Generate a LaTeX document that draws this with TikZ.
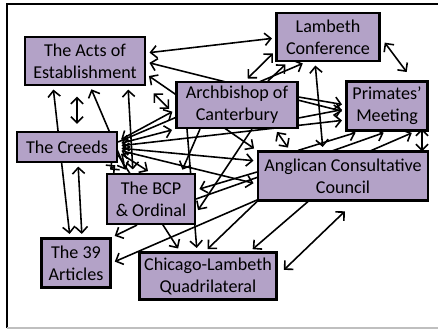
\documentclass[tikz,border=0pt]{standalone}
\usepackage{fontspec}
\setmainfont{Carlito}
\usetikzlibrary{positioning,calc,arrows.meta,backgrounds}
\definecolor{boxlilac}{HTML}{B3A2C7}
\tikzset{
        % Boxes
        box/.style={draw=black, line width=1.2pt, fill=boxlilac, align=center, inner sep=1pt, font=\fontsize{10.3}{12.5}\selectfont},
        % Two-way connectors
        link/.style={<->, line width=0.9pt, shorten <=2pt, shorten >=2pt},
        % One-way connectors
        oneway/.style={->, line width=0.9pt, shorten >=2pt}
}

\begin{document}
\begin{tikzpicture}[x=0.02cm, y=-0.02cm, >={Straight Barb[length=3.5pt,width=7pt]}]
            \useasboundingbox (0,0) rectangle (438,329);
            % slide frame
            \draw[line width=1.1pt] (7,328) -- (7,4) -- (438,4);
            \draw[line width=1pt, black!25] (7,328) -- (438,328);

            \node[box, minimum width=2.4cm, minimum height=0.96cm] (acts) at (85,61) {The Acts of\\Establishment};
            \node[box, minimum width=2.06cm, minimum height=0.96cm] (lambeth) at (328,37) {Lambeth\\Conference};
            \node[box, minimum width=2.42cm, minimum height=0.92cm] (abc) at (237,105) {Archbishop of\\Canterbury};
            \node[box, minimum width=1.62cm, minimum height=0.98cm] (primates) at (387,106) {Primates'\\Meeting};
            \node[box, minimum width=2.0cm, minimum height=0.6cm] (creeds) at (67,147) {The Creeds};
            \node[box, minimum width=3.4cm, minimum height=0.98cm] (acc) at (343,176) {Anglican Consultative\\Council};
            \node[box, minimum width=1.76cm, minimum height=1.0cm] (bcp) at (151,199) {The BCP\\\& Ordinal};
            \node[box, minimum width=1.38cm, minimum height=0.98cm] (arts) at (76,263) {The 39\\Articles};
            \node[box, minimum width=2.74cm, minimum height=0.94cm] (quad) at (208,276) {Chicago-Lambeth\\Quadrilateral};

            \begin{scope}[on background layer]
                % from the Acts
                \draw[link] ($(acts.east)+(0,-8)$) -- ($(lambeth.west)+(0,1)$);
                \draw[link] ($(acts.east)+(0,1)$) -- ($(primates.west)+(0,6)$);
                \draw[link, shorten <=6pt, shorten >=5pt] (acts.south east) -- ($(abc.west)+(0,10)$);
                \draw[link] ($(acts.east)+(0,13)$) -- (acc.north west);
                \draw[link, shorten <=6pt, shorten >=4pt] ($(acts.south)+(-8,0)$) -- ($(creeds.north)+(10,0)$);
                \draw[link] ($(acts.south)+(-32,0)$) -- ($(arts.north)+(-6,0)$);
                \draw[link] ($(acts.south)+(5,0)$) -- ($(bcp.north)+(-24,0)$);
                \draw[link] ($(acts.south)+(43,0)$) -- ($(bcp.north)+(-18,0)$);
                % from the Creeds
                \draw[link] ($(creeds.south)+(11,0)$) -- ($(arts.north)+(6,0)$);
                \draw[oneway] ($(creeds.east)+(0,-5)$) -- ($(lambeth.south)+(-22,0)$);
                \draw[link] ($(creeds.east)+(0,1)$) -- ($(acc.west)+(0,-15)$);
                \draw[link] ($(creeds.east)+(0,3)$) -- ($(acc.west)+(0,8)$);
                \draw[link] ($(creeds.east)+(0,-1)$) -- ($(primates.west)+(0,14)$);
                \draw[link] ($(creeds.east)+(0,-3)$) -- (abc.south west);
                \draw[link] ($(creeds.east)+(0,-6)$) -- ($(abc.west)+(0,5)$);
                \draw[link] ($(creeds.east)+(0,5)$) -- (bcp.north);
                \draw[oneway] ($(creeds.east)+(0,8)$) -- ($(quad.north)+(-28,0)$);
                \draw[link, shorten <=3pt] (bcp.north west) -- (creeds.south east);
                % from the Archbishop
                \draw[link] ($(abc.north)+(8,0)$) -- ($(lambeth.west)+(0,14)$);
                \draw[oneway] ($(abc.north)+(31,0)$) -- ($(lambeth.south)+(-40,0)$);
                \draw[oneway] ($(abc.east)+(0,-8)$) -- ($(primates.west)+(0,-1)$);
                \draw[oneway] ($(abc.east)+(0,13)$) -- ($(primates.west)+(0,3)$);
                \draw[link] ($(abc.south)+(38,0)$) -- ($(acc.north)+(-53,0)$);
                \draw[oneway] ($(abc.south)+(-37,0)$) -- ($(bcp.north)+(30,0)$);
                \draw[oneway] ($(abc.south)+(15,0)$) -- ($(bcp.east)+(0,14)$);
                \draw[oneway] ($(abc.south)+(-50,0)$) -- ($(quad.north)+(-11,0)$);
                % Lambeth, Primates and the Council
                \draw[link] ($(lambeth.south)+(-13,0)$) -- ($(acc.north)+(-20,0)$);
                \draw[link, shorten <=4pt, shorten >=6pt] (lambeth.east) -- ($(primates.north)+(26,0)$);
                \draw[link, shorten <=0pt, shorten >=0pt] ($(primates.south)+(35,-3)$) -- ($(acc.north)+(79,1)$);
                \draw[oneway] ($(acc.north)+(-45,0)$) -- ($(primates.south)+(-28,0)$);
                \draw[oneway] (bcp.east) -- (primates.south);
                \draw[link] (arts.east) -- ($(primates.south)+(28,0)$);
                \draw[oneway] ($(acc.west)+(0,-4)$) -- ($(bcp.east)+(0,-9)$);
                % towards the Quadrilateral and the Articles
                \draw[oneway] ($(acc.south)+(-35,0)$) -- ($(quad.north)+(42,0)$);
                \draw[link, shorten <=8pt, shorten >=5pt] ($(acc.south)+(12,0)$) -- (quad.east);
                \draw[oneway] (acc.south west) -- ($(quad.north)+(-3,0)$);
                \draw[oneway] ($(bcp.south)+(-14,0)$) -- (arts.north east);
            \end{scope}
\end{tikzpicture}
\end{document}
